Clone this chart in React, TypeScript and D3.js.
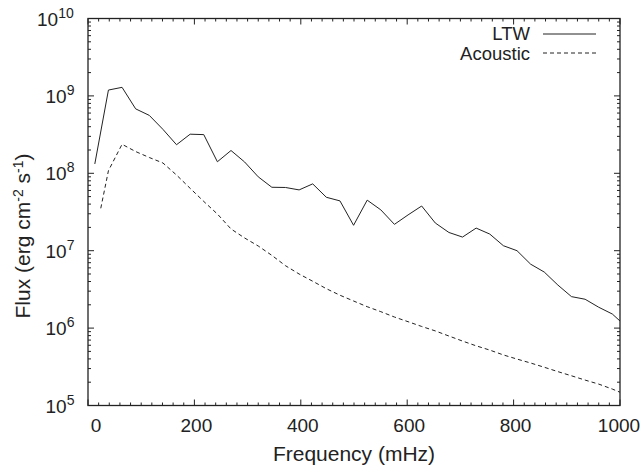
import React from "react";
import * as d3 from "d3";

// frequency grid (mHz)
const freq = [12.8, 38.4, 64, 89.6, 115.2, 140.8, 166.4, 192, 217.6, 243.2, 268.8, 294.4, 320, 345.6, 371.2, 396.8, 422.4, 448, 473.6, 499.2, 524.8, 550.4, 576, 601.6, 627.2, 652.8, 678.4, 704, 729.6, 755.2, 780.8, 806.4, 832, 857.6, 883.2, 908.8, 934.4, 960, 985.6, 1011.2];
const ltwFlux = [1.32e8, 1.19e9, 1.29e9, 6.8e8, 5.6e8, 3.7e8, 2.34e8, 3.2e8, 3.16e8, 1.41e8, 1.97e8, 1.4e8, 9.0e7, 6.6e7, 6.56e7, 6.1e7, 7.3e7, 4.9e7, 4.4e7, 2.13e7, 4.5e7, 3.37e7, 2.19e7, 2.9e7, 3.78e7, 2.28e7, 1.72e7, 1.5e7, 1.96e7, 1.64e7, 1.16e7, 1.0e7, 6.7e6, 5.3e6, 3.6e6, 2.55e6, 2.36e6, 1.86e6, 1.52e6, 1.05e6];
const acousticFreq = [24, 38.4, 64, 89.6, 115.2, 140.8, 166.4, 192, 217.6, 243.2, 268.8, 294.4, 320, 345.6, 371.2, 396.8, 422.4, 448, 473.6, 499.2, 524.8, 550.4, 576, 601.6, 627.2, 652.8, 678.4, 704, 729.6, 755.2, 780.8, 806.4, 832, 857.6, 883.2, 908.8, 934.4, 960, 985.6, 1011.2];
const acousticFlux = [3.53e7, 1.08e8, 2.37e8, 1.91e8, 1.6e8, 1.36e8, 9.5e7, 6.4e7, 4.33e7, 2.98e7, 1.91e7, 1.46e7, 1.15e7, 8.7e6, 6.4e6, 5.0e6, 4.03e6, 3.23e6, 2.66e6, 2.24e6, 1.89e6, 1.63e6, 1.39e6, 1.21e6, 1.05e6, 9.2e5, 7.9e5, 6.8e5, 5.9e5, 5.2e5, 4.5e5, 3.98e5, 3.54e5, 3.12e5, 2.74e5, 2.42e5, 2.13e5, 1.89e5, 1.63e5, 1.38e5];

const xTicks = [0, 200, 400, 600, 800, 1000];
const yExps = [5, 6, 7, 8, 9, 10];

const W = 642, H = 470;
const m = { l: 88, r: 22, t: 18.5, b: 64.5 };
const FONT = "'Liberation Sans', Arial, Helvetica, sans-serif";
const INK = "#222";

export default function App() {
  const x = d3.scaleLinear().domain([0, 1000]).range([m.l, W - m.r]);
  const y = d3.scaleLog().domain([1e5, 1e10]).range([H - m.b, m.t]);
  const line = d3.line<[number, number]>().x((d) => x(d[0])).y((d) => y(d[1]));
  const ltw = line(freq.map((f, i) => [f, ltwFlux[i]]));
  const aco = line(acousticFreq.map((f, i) => [f, acousticFlux[i]]));

  const minorX = d3.range(0, 1001, 20).filter((v) => v % 200 !== 0);
  const minorY: number[] = [];
  yExps.slice(0, -1).forEach((e) => {
    for (let k = 2; k <= 9; k++) minorY.push(k * Math.pow(10, e));
  });

  const x0 = m.l, x1 = W - m.r, y0 = H - m.b, y1 = m.t;

  return (
    <svg width={W} height={H} style={{ position: "absolute", left: 0, top: 0, background: "#fff" }} fontFamily={FONT}>
      <defs>
        <clipPath id="plot">
          <rect x={x0} y={y1} width={x1 - x0} height={y0 - y1} />
        </clipPath>
      </defs>
      <g stroke={INK} strokeWidth={1}>
        {xTicks.map((t) => (
          <g key={"xt" + t}>
            <line x1={x(t)} x2={x(t)} y1={y0} y2={y0 - 6} />
            <line x1={x(t)} x2={x(t)} y1={y1} y2={y1 + 6} />
          </g>
        ))}
        {minorX.map((t) => (
          <g key={"xm" + t}>
            <line x1={x(t)} x2={x(t)} y1={y0} y2={y0 - 3} />
            <line x1={x(t)} x2={x(t)} y1={y1} y2={y1 + 3} />
          </g>
        ))}
        {yExps.map((e) => (
          <g key={"yt" + e}>
            <line x1={x0} x2={x0 + 6} y1={y(Math.pow(10, e))} y2={y(Math.pow(10, e))} />
            <line x1={x1} x2={x1 - 6} y1={y(Math.pow(10, e))} y2={y(Math.pow(10, e))} />
          </g>
        ))}
        {minorY.map((v) => (
          <g key={"ym" + v}>
            <line x1={x0} x2={x0 + 3} y1={y(v)} y2={y(v)} />
            <line x1={x1} x2={x1 - 3} y1={y(v)} y2={y(v)} />
          </g>
        ))}
      </g>
      <g clipPath="url(#plot)" fill="none" stroke={INK} strokeWidth={1}>
        <path d={ltw || ""} />
        <path d={aco || ""} strokeDasharray="4,3" />
      </g>
      <rect x={x0} y={y1} width={x1 - x0} height={y0 - y1} fill="none" stroke={INK} strokeWidth={1.3} />

      <g fill={INK} fontSize={19}>
        {xTicks.map((t) => (
          <text key={"xl" + t} x={x(t)} dx={t === 0 ? 8 : t === 1000 ? -1 : 2} y={432} textAnchor="middle">{t}</text>
        ))}
        {yExps.map((e) => (
          <text key={"yl" + e} x={54 - 8.5 * String(e).length} y={y(Math.pow(10, e)) + 7}>
            10<tspan dy={-8} fontSize={14}>{e}</tspan>
          </text>
        ))}
      </g>

      <text x={(x0 + x1) / 2} y={461} textAnchor="middle" fontSize={21} fill={INK}>Frequency (mHz)</text>
      <text transform={`translate(30,${236}) rotate(-90)`} textAnchor="middle" fontSize={21} fill={INK}>
        Flux (erg cm<tspan dy={-7} fontSize={14}>-2</tspan><tspan dy={7}> s</tspan><tspan dy={-7} fontSize={14}>-1</tspan><tspan dy={7}>)</tspan>
      </text>

      <g fontSize={18.5} fill={INK}>
        <text x={530} y={40} textAnchor="end">LTW</text>
        <text x={530} y={59.5} textAnchor="end">Acoustic</text>
      </g>
      <line x1={543} x2={596} y1={34} y2={34} stroke={INK} strokeWidth={1} />
      <line x1={543} x2={596} y1={53} y2={53} stroke={INK} strokeWidth={1} strokeDasharray="4,3" />
    </svg>
  );
}
